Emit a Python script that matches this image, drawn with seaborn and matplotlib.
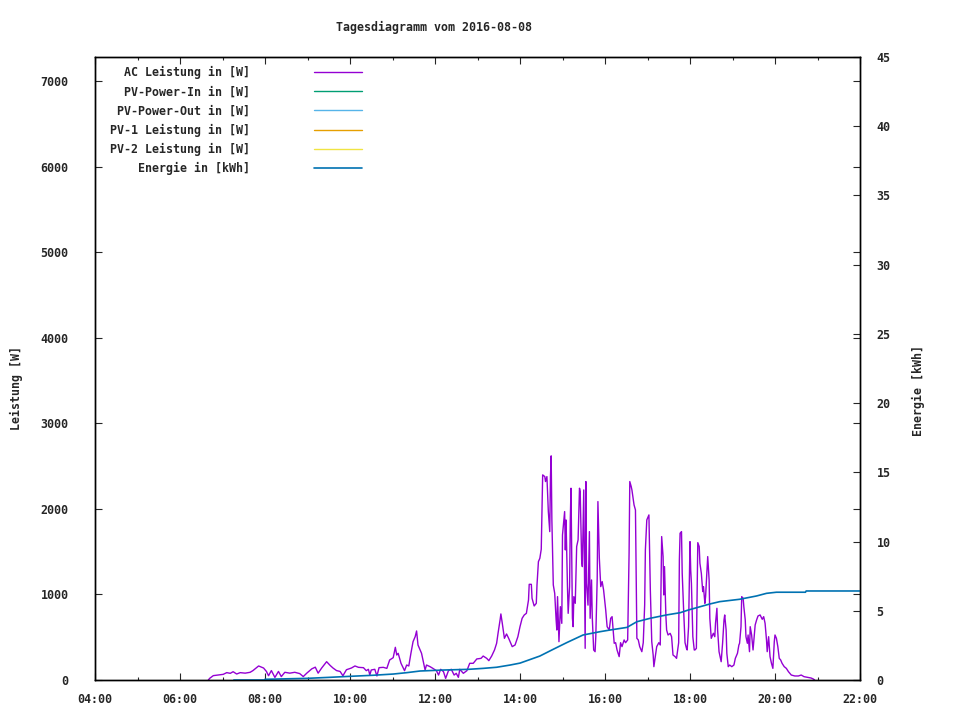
import seaborn as sns
import matplotlib.pyplot as plt
import matplotlib.dates as mdates
import pandas as pd

# AC Leistung in [W]
ac_times = [
    "06:40", "06:42", "06:47", "06:54", "07:01", "07:06", "07:11", "07:15", "07:20", "07:25",
    "07:32", "07:39", "07:43", "07:51", "07:58", "08:02", "08:05", "08:09", "08:14", "08:19",
    "08:23", "08:28", "08:35", "08:42", "08:49", "08:54", "08:59", "09:06", "09:11", "09:15",
    "09:20", "09:27", "09:32", "09:36", "09:41", "09:46", "09:50", "09:55", "10:02", "10:07",
    "10:12", "10:19", "10:23", "10:26", "10:28", "10:30", "10:35", "10:38", "10:41", "10:47",
    "10:52", "10:56", "11:01", "11:04", "11:06", "11:08", "11:12", "11:17", "11:20", "11:23",
    "11:26", "11:29", "11:32", "11:34", "11:36", "11:39", "11:41", "11:43", "11:46", "11:48",
    "11:53", "11:57", "12:02", "12:05", "12:08", "12:12", "12:15", "12:19", "12:23", "12:27",
    "12:30", "12:33", "12:35", "12:40", "12:45", "12:49", "12:54", "12:59", "13:05", "13:08",
    "13:13", "13:16", "13:20", "13:24", "13:27", "13:29", "13:32", "13:33", "13:35", "13:38",
    "13:41", "13:44", "13:49", "13:53", "13:57", "14:00", "14:03", "14:06", "14:09", "14:12",
    "14:13", "14:16", "14:17", "14:20", "14:23", "14:24", "14:26", "14:28", "14:30", "14:31",
    "14:32", "14:35", "14:36", "14:38", "14:40", "14:42", "14:43", "14:44", "14:45", "14:47",
    "14:49", "14:51", "14:52", "14:53", "14:55", "14:57", "14:59", "15:00", "15:03", "15:04",
    "15:05", "15:07", "15:08", "15:10", "15:11", "15:12", "15:14", "15:15", "15:16", "15:18",
    "15:20", "15:22", "15:24", "15:25", "15:27", "15:28", "15:30", "15:32", "15:33", "15:34",
    "15:36", "15:38", "15:39", "15:41", "15:42", "15:44", "15:46", "15:47", "15:49", "15:50",
    "15:52", "15:54", "15:56", "15:58", "16:00", "16:01", "16:03", "16:06", "16:08", "16:10",
    "16:13", "16:15", "16:17", "16:20", "16:22", "16:24", "16:27", "16:29", "16:32", "16:34",
    "16:35", "16:37", "16:38", "16:40", "16:41", "16:43", "16:44", "16:45", "16:47", "16:49",
    "16:52", "16:54", "16:56", "16:57", "16:59", "17:01", "17:02", "17:04", "17:06", "17:08",
    "17:09", "17:11", "17:13", "17:16", "17:18", "17:19", "17:20", "17:22", "17:23", "17:24",
    "17:26", "17:27", "17:29", "17:32", "17:34", "17:36", "17:39", "17:41", "17:44", "17:45",
    "17:46", "17:48", "17:49", "17:51", "17:53", "17:55", "17:56", "17:58", "18:00", "18:01",
    "18:02", "18:04", "18:06", "18:07", "18:09", "18:10", "18:11", "18:13", "18:14", "18:16",
    "18:18", "18:19", "18:21", "18:22", "18:24", "18:25", "18:27", "18:28", "18:30", "18:33",
    "18:35", "18:36", "18:38", "18:39", "18:41", "18:43", "18:44", "18:46", "18:48", "18:49",
    "18:51", "18:52", "18:54", "18:56", "18:59", "19:02", "19:04", "19:07", "19:09", "19:10",
    "19:12", "19:13", "19:15", "19:16", "19:18", "19:19", "19:21", "19:22", "19:24", "19:25",
    "19:27", "19:29", "19:32", "19:34", "19:36", "19:39", "19:42", "19:44", "19:46", "19:48",
    "19:49", "19:51", "19:53", "19:55", "19:57", "19:59", "20:00", "20:02", "20:04", "20:06",
    "20:08", "20:10", "20:13", "20:16", "20:19", "20:23", "20:28", "20:33", "20:37", "20:41",
    "20:46", "20:51", "20:54", "20:56",
]
ac_watt = [
    0, 20, 51, 58, 66, 86, 78, 97, 70, 86,
    80, 90, 110, 164, 140, 100, 50, 110, 30, 100,
    40, 90, 80, 90, 75, 40, 80, 130, 150, 80,
    140, 214, 170, 140, 110, 100, 50, 120, 140, 164,
    148, 144, 109, 125, 58, 117, 125, 47, 144, 148,
    136, 234, 261, 382, 292, 312, 195, 109, 175, 164,
    312, 448, 506, 573, 409, 351, 312, 234, 117, 175,
    156, 136, 109, 58, 125, 97, 19, 109, 125, 58,
    78, 31, 125, 78, 109, 195, 195, 246, 253, 280,
    253, 226, 280, 351, 429, 546, 709, 772, 662, 487,
    538, 487, 390, 409, 506, 623, 721, 760, 779, 935,
    1118, 1118, 955, 865, 896, 1111, 1383, 1422, 1528, 1968,
    2397, 2377, 2319, 2377, 1968, 1734, 2377, 2619, 1870, 1111,
    1013, 701, 584, 974, 448, 857, 662, 1695, 1968, 1520,
    1870, 1091, 779, 1091, 1870, 2241, 721, 623, 974, 896,
    1559, 1637, 2241, 2202, 1403, 1325, 2221, 370, 2319, 1130,
    875, 1734, 721, 1169, 740, 351, 331, 506, 1189, 2085,
    1422, 1091, 1150, 1052, 896, 818, 623, 584, 721, 740,
    429, 436, 351, 273, 436, 390, 468, 436, 468, 1481,
    2319, 2260, 2221, 2104, 2046, 1987, 1286, 487, 468, 390,
    331, 436, 877, 1520, 1870, 1909, 1929, 1052, 448, 292,
    156, 273, 390, 436, 409, 1013, 1676, 1442, 994, 1325,
    740, 584, 526, 545, 506, 292, 273, 253, 436, 1403,
    1715, 1734, 1247, 818, 436, 370, 351, 623, 1617, 1286,
    1130, 506, 351, 351, 370, 994, 1605, 1559, 1364, 1247,
    1033, 1091, 896, 974, 1286, 1442, 1169, 721, 487, 546,
    506, 662, 838, 584, 331, 253, 214, 429, 701, 760,
    584, 312, 156, 175, 156, 175, 253, 312, 409, 429,
    623, 974, 955, 857, 701, 506, 429, 526, 331, 623,
    526, 351, 643, 701, 748, 760, 709, 740, 662, 468,
    331, 506, 273, 195, 136, 448, 526, 487, 390, 253,
    234, 195, 156, 136, 97, 58, 47, 47, 58, 39,
    31, 23, 12, 0,
]

# Energie in [kWh]
energy_times = [
    "07:16", "07:59", "08:00", "09:00", "09:30", "10:02", "10:32", "11:01", "11:20", "11:39",
    "12:12", "12:47", "13:08", "13:27", "13:46", "14:00", "14:28", "14:47", "15:06", "15:29",
    "15:53", "16:07", "16:31", "16:45", "17:04", "17:27", "17:46", "17:58", "18:28", "18:42",
    "19:10", "19:34", "19:48", "20:02", "20:43", "20:44", "22:00",
]
energy_kwh = [
    0.0, 0.0, 0.05, 0.12, 0.19, 0.27, 0.34, 0.43, 0.53, 0.65,
    0.72, 0.77, 0.84, 0.92, 1.08, 1.22, 1.73, 2.22, 2.70, 3.25,
    3.49, 3.61, 3.80, 4.21, 4.46, 4.70, 4.86, 5.06, 5.49, 5.66,
    5.83, 6.07, 6.26, 6.34, 6.34, 6.43, 6.43,
]

day = "2016-08-08"
labels = ["AC Leistung in [W]", "PV-Power-In in [W]", "PV-Power-Out in [W]",
          "PV-1 Leistung in [W]", "PV-2 Leistung in [W]", "Energie in [kWh]"]
colors = ["#9400d3", "#009e73", "#56b4e9", "#e69f00", "#f0e442", "#0072b2"]

ac = pd.DataFrame({"time": pd.to_datetime(day + " " + pd.Series(ac_times)), "watt": ac_watt})
en = pd.DataFrame({"time": pd.to_datetime(day + " " + pd.Series(energy_times)), "kwh": energy_kwh})

sns.set_style("ticks")
plt.rcParams["font.family"] = ["DejaVu Sans Mono"]
plt.rcParams["font.weight"] = "bold"
fs = 8.4

fig = plt.figure(figsize=(9.6, 7.2), dpi=100)
ax = fig.add_axes([95 / 960, 40 / 720, 765 / 960, 623 / 720])
ax2 = ax.twinx()

sns.lineplot(data=ac, x="time", y="watt", ax=ax, color=colors[0], linewidth=1.0)
for c in colors[1:5]:
    ax.plot([], [], color=c, linewidth=1.0)
sns.lineplot(data=en, x="time", y="kwh", ax=ax2, color=colors[5], linewidth=1.2)

ax.set_xlim(pd.Timestamp(day + " 04:00"), pd.Timestamp(day + " 22:00"))
ax.set_ylim(0, 7280)
ax2.set_ylim(0, 45)
ax.set_yticks(range(0, 8000, 1000))
ax2.set_yticks(range(0, 50, 5))
ax.xaxis.set_major_locator(mdates.HourLocator(interval=2))
ax.xaxis.set_minor_locator(mdates.HourLocator())
ax.xaxis.set_major_formatter(mdates.DateFormatter("%H:%M"))

ax.set_xlabel("")
ax.set_ylabel("")
ax2.set_ylabel("")

ax.tick_params(axis="x", which="major", direction="in", length=5, width=0.8, top=True,
               labelsize=fs, pad=9.5)
ax.tick_params(axis="x", which="minor", direction="in", length=2.5, width=0.8, top=True)
ax.tick_params(axis="y", direction="in", length=5, width=0.8, right=True,
               labelsize=fs, pad=19)
ax2.tick_params(axis="y", direction="in", length=5, width=0.8, labelsize=fs, pad=12)

for a in (ax, ax2):
    for s in a.spines.values():
        s.set_linewidth(1.0)
        s.set_color("black")

fig.text(434.5 / 960, 1 - 27 / 720, "Tagesdiagramm vom " + day, ha="center", va="center",
         fontsize=fs)
fig.text(16 / 960, 1 - 388 / 720, "Leistung [W]", rotation=90, ha="center", va="center",
         fontsize=fs)
fig.text(918 / 960, 1 - 390 / 720, "Energie [kWh]", rotation=90, ha="center", va="center",
         fontsize=fs)

handles = ax.get_lines() + ax2.get_lines()
ax2.legend(handles, labels, loc="upper left", bbox_to_anchor=(15 / 765, 614 / 623),
           frameon=False, markerfirst=False, fontsize=fs, handlelength=4.1,
           handletextpad=5.5, labelspacing=0.53, borderpad=0, borderaxespad=0)

fig.savefig("out.png", dpi=100)
